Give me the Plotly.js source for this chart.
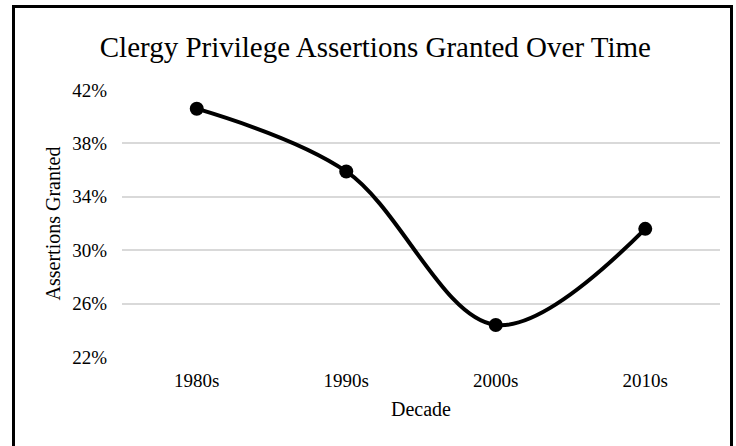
<!DOCTYPE html>
<html>
<head>
<meta charset="utf-8">
<script src="https://cdn.plot.ly/plotly-3.0.1.min.js"></script>
<style>
  html, body { margin: 0; padding: 0; background: #ffffff; }
  #wrap { position: relative; width: 736px; height: 446px; overflow: hidden; }
  #frame { position: absolute; left: 12px; top: 5px; width: 721px; height: 460px; border: 3px solid #000; box-sizing: border-box; }
  #chart { position: absolute; left: 0; top: 0; width: 736px; height: 446px; }
</style>
</head>
<body>
<div id="wrap">
  <div id="frame"></div>
  <div id="chart"></div>
</div>
<script>
const decades = ["1980s", "1990s", "2000s", "2010s"];
const granted = [40.6, 35.9, 24.4, 31.6];
const yTicks = [22, 26, 30, 34, 38, 42];
const yTickLabels = ["22%", "26%", "30%", "34%", "38%", "42%"];

const serif = "Liberation Serif, Times New Roman, serif";

const trace = {
  x: decades,
  y: granted,
  type: "scatter",
  mode: "lines+markers",
  line: { shape: "spline", smoothing: 1, color: "#000000", width: 4 },
  marker: { size: 14, color: "#000000" },
  hoverinfo: "x+y"
};

const layout = {
  width: 736,
  height: 446,
  paper_bgcolor: "rgba(0,0,0,0)",
  plot_bgcolor: "rgba(0,0,0,0)",
  margin: { l: 122, r: 16, t: 90, b: 89 },
  showlegend: false,
  title: {
    text: "Clergy Privilege Assertions Granted Over Time",
    font: { family: serif, size: 29, color: "#000000" },
    xref: "container", x: 0.51, xanchor: "center",
    yref: "container", y: 1 - 47 / 446, yanchor: "middle"
  },
  xaxis: {
    type: "category",
    range: [-0.5, 3.5],
    showgrid: false,
    zeroline: false,
    showline: false,
    ticks: "",
    ticklabelstandoff: 10,
    tickfont: { family: serif, size: 19, color: "#000000" },
    title: { text: "Decade", font: { family: serif, size: 20, color: "#000000" }, standoff: 11 },
    automargin: false,
    fixedrange: true
  },
  yaxis: {
    range: [22, 42],
    tickvals: yTicks,
    ticktext: yTickLabels,
    showgrid: true,
    gridcolor: "#d9d9d9",
    gridwidth: 2,
    zeroline: false,
    showline: false,
    ticks: "",
    ticklabelstandoff: 14,
    tickfont: { family: serif, size: 19, color: "#000000" },
    title: { text: "Assertions Granted", font: { family: serif, size: 20, color: "#000000" }, standoff: 6 },
    automargin: false,
    fixedrange: true
  }
};

Plotly.newPlot("chart", [trace], layout, { displayModeBar: false, staticPlot: true });
</script>
</body>
</html>
